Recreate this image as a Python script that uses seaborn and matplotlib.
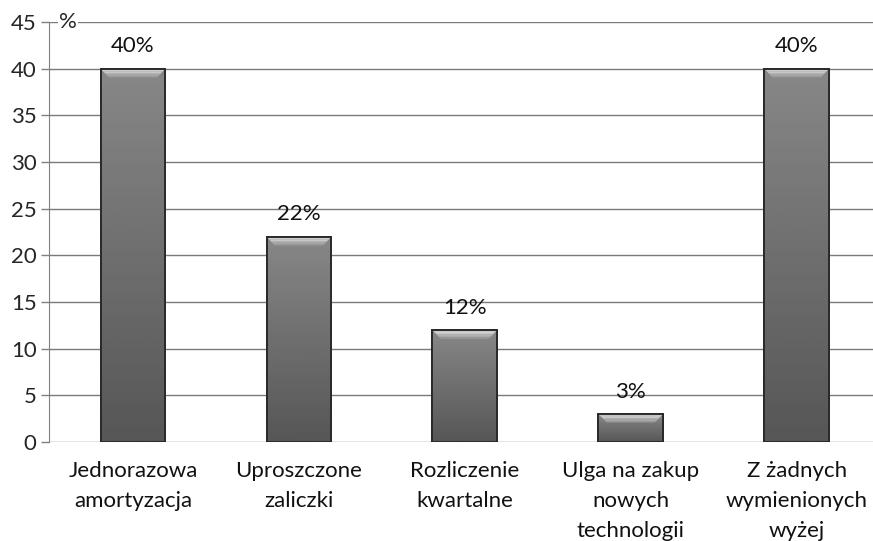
import matplotlib
matplotlib.use("Agg")
import matplotlib.pyplot as plt
import matplotlib.transforms as mtransforms
import seaborn as sns
import numpy as np
import pandas as pd

categories = ["Jednorazowa\namortyzacja", "Uproszczone\nzaliczki", "Rozliczenie\nkwartalne",
              "Ulga na zakup\nnowych\ntechnologii", "Z żadnych\nwymienionych\nwyżej"]
values = [40, 22, 12, 3, 40]
labels = ["40%", "22%", "12%", "3%", "40%"]
yticks = [0, 5, 10, 15, 20, 25, 30, 35, 40, 45]

sns.set_style("white")
plt.rcParams['font.family'] = ['Lato', 'DejaVu Sans']

df = pd.DataFrame({"cat": categories, "val": values})

fig = plt.figure(figsize=(8.73, 5.41), dpi=100)
ax = fig.add_axes([49/873, 1 - 442/541, 1 - 49/873, 420/541])

sns.barplot(data=df, x="cat", y="val", color="#707070", width=0.39,
            edgecolor="#2a2a2a", linewidth=1.4, saturation=1, ax=ax, zorder=3)

# gradient fill + bevel highlight on top of each bar
bars = list(ax.patches)
for p in bars:
    x0, y0, w, h = p.get_x(), p.get_y(), p.get_width(), p.get_height()
    grad = np.tile(np.linspace(0.53, 0.34, 64).reshape(-1, 1), (1, 32))
    im = ax.imshow(grad, cmap="gray", vmin=0, vmax=1, aspect="auto",
                   extent=(x0, x0 + w, y0, y0 + h), zorder=3.5)
    im.set_clip_path(p)
    bev = min(0.95, h * 0.3)
    ins = 0.05
    n = 6
    shades = np.linspace(0.9, 0.6, n)
    for k in range(n):
        ya, yb = h - bev * k / n, h - bev * (k + 1) / n
        ia, ib = ins * k / n, ins * (k + 1) / n
        ax.fill([x0 + ia, x0 + w - ia, x0 + w - ib, x0 + ib], [ya, ya, yb, yb],
                color=str(shades[k]), lw=0, zorder=4.5)
    ax.add_patch(plt.Rectangle((x0, y0), w, h, fill=False, edgecolor="#2a2a2a", lw=1.4, zorder=5))

for i, (v, t) in enumerate(zip(values, labels)):
    ax.annotate(t, (i, v), xytext=(0, 9), textcoords="offset points",
                ha="center", va="bottom", fontsize=16, color="#111111")

ax.set_ylim(0, 45)
ax.set_xlim(-0.506, 4.46)
ax.set_yticks(yticks)
ax.set_yticklabels([str(t) for t in yticks], fontsize=16)
ax.set_xticks(range(len(categories)))
ax.set_xticklabels([])
# category labels as text so the line spacing can be set
trans = mtransforms.blended_transform_factory(ax.transData, ax.transAxes)
for i, c in enumerate(categories):
    ax.text(i, -0.045, c, transform=trans, ha="center", va="top", fontsize=16,
            linespacing=1.62, color="#111111")
ax.tick_params(axis="y", length=6, width=1, color="#808080", pad=3, left=True)
ax.tick_params(axis="x", length=0)
ax.yaxis.grid(True, color="#7a7a7a", linewidth=1)
ax.set_axisbelow(True)
for s in ["top", "right", "bottom"]:
    ax.spines[s].set_visible(False)
ax.spines["left"].set_color("#808080")
ax.set_xlabel("")
ax.set_ylabel("")
ax.text(0.012, 45, "%", fontsize=16, ha="left", va="center", transform=ax.get_yaxis_transform(),
        bbox=dict(facecolor="white", edgecolor="none", pad=1))

fig.savefig("out.png", dpi=100)
